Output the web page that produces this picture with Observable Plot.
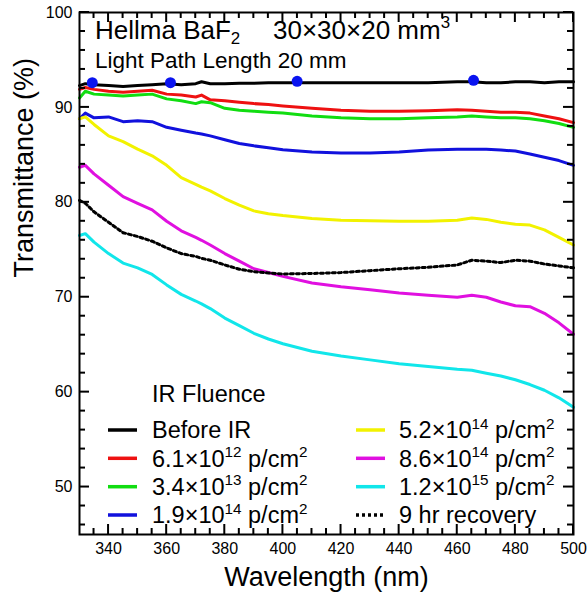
<!DOCTYPE html>
<html>
<head>
<meta charset="utf-8">
<script src="https://cdn.jsdelivr.net/npm/d3@7"></script>
<script src="https://cdn.jsdelivr.net/npm/@observablehq/plot@0.6"></script>
<style>
  body { margin: 0; background: #fff; }
  #chart { width: 587px; height: 595px; }
  text { font-family: "Liberation Sans", Arial, sans-serif; }
</style>
</head>
<body>
<div id="chart"></div>
<script>
// ---- data ----
const wavelengths = [330, 332, 335, 340, 345, 350, 355, 360, 365, 370, 372, 375, 380, 385, 390, 395, 400,
  410, 420, 430, 440, 450, 460, 465, 470, 475, 480, 485, 490, 495, 500];
const beforeIR = [92.3, 92.5, 92.4, 92.3, 92.2, 92.3, 92.4, 92.5, 92.4, 92.5, 92.7, 92.5, 92.5, 92.55, 92.55, 92.6, 92.6,
  92.6, 92.6, 92.6, 92.6, 92.6, 92.7, 92.7, 92.6, 92.6, 92.7, 92.7, 92.6, 92.7, 92.7];
const fluence61e12 = [91.9, 92.1, 91.9, 91.7, 91.6, 91.7, 91.8, 91.4, 91.3, 91.1, 91.3, 90.8, 90.7, 90.55, 90.4, 90.3, 90.15,
  89.9, 89.7, 89.6, 89.6, 89.65, 89.75, 89.7, 89.6, 89.5, 89.5, 89.4, 89.1, 88.8, 88.4];
const fluence34e13 = [91.0, 91.7, 91.4, 91.3, 91.2, 91.3, 91.4, 90.9, 90.7, 90.4, 90.6, 90.5, 89.9, 89.7, 89.6, 89.5, 89.4,
  89.1, 88.9, 88.8, 88.8, 88.9, 89.0, 89.1, 89.0, 88.9, 88.9, 88.8, 88.6, 88.3, 87.9];
const fluence19e14 = [88.8, 89.4, 88.9, 89.0, 88.5, 88.6, 88.5, 87.9, 87.6, 87.3, 87.2, 87.0, 86.6, 86.2, 85.95, 85.75, 85.55,
  85.3, 85.2, 85.2, 85.3, 85.5, 85.6, 85.6, 85.6, 85.5, 85.4, 85.1, 84.75, 84.4, 83.9];
const fluence52e14 = [88.8, 89.0, 88.2, 87.0, 86.4, 85.6, 84.9, 83.9, 82.6, 81.9, 81.6, 81.2, 80.4, 79.7, 79.1, 78.8, 78.6,
  78.3, 78.1, 78.05, 78.0, 78.0, 78.1, 78.35, 78.2, 77.9, 77.7, 77.6, 77.1, 76.3, 75.5];
const fluence86e14 = [83.7, 83.9, 83.0, 81.8, 80.6, 79.9, 79.2, 78.0, 77.0, 76.3, 76.0, 75.5, 74.6, 73.8, 73.0, 72.6, 72.2,
  71.5, 71.1, 70.8, 70.45, 70.2, 70.0, 70.2, 70.0, 69.5, 69.1, 69.0, 68.3, 67.3, 66.1];
const fluence12e15 = [76.5, 76.7, 75.8, 74.6, 73.6, 73.1, 72.4, 71.3, 70.3, 69.6, 69.3, 68.8, 67.8, 67.0, 66.2, 65.6, 65.1,
  64.3, 63.8, 63.4, 63.0, 62.7, 62.4, 62.3, 62.0, 61.7, 61.3, 60.8, 60.2, 59.4, 58.4];
const recovery9hr = [80.2, 79.9, 79.0, 77.9, 76.8, 76.4, 75.9, 75.2, 74.6, 74.3, 74.1, 73.9, 73.4, 72.95, 72.7, 72.55, 72.45,
  72.5, 72.6, 72.8, 73.0, 73.15, 73.4, 73.9, 73.8, 73.65, 73.9, 73.8, 73.5, 73.3, 73.1];

const markerWavelengths = [334.4, 361.3, 404.9, 465.6];
const markerValues = [92.6, 92.6, 92.75, 92.85];

const seriesNames = ["Before IR", "6.1×10^12 p/cm^2", "3.4×10^13 p/cm^2", "1.9×10^14 p/cm^2",
  "5.2×10^14 p/cm^2", "8.6×10^14 p/cm^2", "1.2×10^15 p/cm^2", "9 hr recovery"];
const seriesValues = [beforeIR, fluence61e12, fluence34e13, fluence19e14,
  fluence52e14, fluence86e14, fluence12e15, recovery9hr];
const seriesColors = ["#000000", "#ee1111", "#11dd11", "#1111dd", "#f2f200", "#e010e0", "#11e6ea", "#000000"];

const xTicks = [340, 360, 380, 400, 420, 440, 460, 480, 500];
const yTicks = [50, 60, 70, 80, 90, 100];
const xMinor = d3.range(335, 500, 5).filter(v => v % 20 !== 0);
const yMinor = d3.range(46, 100, 2).filter(v => v % 10 !== 0);

const titleText = "Hellma BaF_2";
const titleSize = "30×30×20 mm^3";
const subtitleText = "Light Path Length 20 mm";
const legendTitle = "IR Fluence";
const xLabel = "Wavelength (nm)";
const yLabel = "Transmittance (%)";

// ---- layout ----
const W = 587, H = 595;
const mT = 12, mB = 61, mL = 79, mR = 14;

const rows = [];
seriesNames.forEach((name, i) => {
  wavelengths.forEach((wl, j) => rows.push({series: name, idx: i, wl, t: seriesValues[i][j]}));
});
const markers = markerWavelengths.map((wl, i) => ({wl, t: markerValues[i]}));

const lineMarks = seriesNames.map((name, i) =>
  Plot.line(rows.filter(r => r.idx === i), {
    x: "wl", y: "t", stroke: seriesColors[i], strokeWidth: 3,
    strokeDasharray: i === 7 ? "3,3" : null, curve: "linear"
  })
);

const plot = Plot.plot({
  width: W, height: H,
  marginTop: mT, marginBottom: mB, marginLeft: mL, marginRight: mR,
  style: {fontFamily: "'Liberation Sans', Arial, sans-serif", fontSize: "16px", color: "black", background: "white"},
  x: {domain: [330, 500]},
  y: {domain: [45, 100]},
  marks: [
    ...lineMarks,
    Plot.dot(markers, {x: "wl", y: "t", r: 5.5, fill: "#0a14f0", stroke: "none"}),
    Plot.frame({stroke: "black", strokeWidth: 2}),
    Plot.axisX({ticks: xTicks, tickSize: 0, tickPadding: 8, fontSize: 16, label: null}),
    Plot.axisY({ticks: yTicks, tickSize: 0, tickPadding: 7, fontSize: 16, label: null}),
    Plot.text([xLabel], {frameAnchor: "bottom", dy: 43, fontSize: 27, lineAnchor: "middle"}),
    Plot.text([yLabel], {frameAnchor: "left", dx: -55, dy: 4, rotate: -90, fontSize: 27, lineAnchor: "middle"})
  ]
});
document.getElementById("chart").appendChild(plot);

const svg = d3.select(plot);

// ---- inward ticks on all four sides, positioned through Plot's own scales ----
const sx = plot.scale("x"), sy = plot.scale("y");
const frameTop = mT, frameBottom = H - mB, frameLeft = mL, frameRight = W - mR;
const tickG = svg.append("g").attr("stroke", "#000").attr("stroke-width", 2).attr("fill", "none");
function xTick(v, len) {
  const px = sx.apply(v);
  tickG.append("line").attr("x1", px).attr("x2", px).attr("y1", frameBottom).attr("y2", frameBottom - len);
  tickG.append("line").attr("x1", px).attr("x2", px).attr("y1", frameTop).attr("y2", frameTop + len);
}
function yTick(v, len) {
  const py = sy.apply(v);
  tickG.append("line").attr("y1", py).attr("y2", py).attr("x1", frameLeft).attr("x2", frameLeft + len);
  tickG.append("line").attr("y1", py).attr("y2", py).attr("x1", frameRight).attr("x2", frameRight - len);
}
xTicks.forEach(v => xTick(v, 10));
xMinor.forEach(v => xTick(v, 6));
yTicks.forEach(v => yTick(v, 10));
yMinor.forEach(v => yTick(v, 6));

// ---- rich text (sub/superscripts) for title and legend ----
function richText(x, y, str, size) {
  const t = svg.append("text").attr("x", x).attr("y", y)
    .attr("font-size", size).attr("fill", "black").attr("text-anchor", "start")
    .attr("font-family", "'Liberation Sans', Arial, sans-serif");
  const parts = str.split(/([\^_][0-9]+)/).filter(s => s.length);
  let shift = 0;
  parts.forEach(p => {
    let target = 0, txt = p, small = false;
    if (p[0] === "^") { target = -0.42 * size; txt = p.slice(1); small = true; }
    else if (p[0] === "_") { target = 0.2 * size; txt = p.slice(1); small = true; }
    const ts = t.append("tspan").text(txt);
    if (target - shift !== 0) ts.attr("dy", target - shift);
    if (small) ts.attr("font-size", size * 0.65);
    shift = target;
  });
  return t;
}

richText(95, 39, titleText, 26);
richText(273, 39, titleSize, 26);
richText(95, 68, subtitleText, 22.5);

// legend
const legendFont = 23.5;
svg.append("text").attr("x", 152).attr("y", 394 + 0.36 * legendFont)
  .attr("font-size", legendFont).attr("text-anchor", "start")
  .attr("font-family", "'Liberation Sans', Arial, sans-serif")
  .text(legendTitle);
const rowY = [430, 458.3, 486.7, 515];
seriesNames.forEach((name, i) => {
  const col = i < 4 ? 0 : 1;
  const y = rowY[i % 4];
  const lx = col === 0 ? 108 : 356;
  const tx = col === 0 ? 152 : 399;
  svg.append("line").attr("x1", lx).attr("x2", lx + 29).attr("y1", y).attr("y2", y)
    .attr("stroke", seriesColors[i]).attr("stroke-width", 3.5)
    .attr("stroke-dasharray", i === 7 ? "3,3" : null);
  richText(tx, y + 0.36 * legendFont, name, legendFont);
});
</script>
</body>
</html>
